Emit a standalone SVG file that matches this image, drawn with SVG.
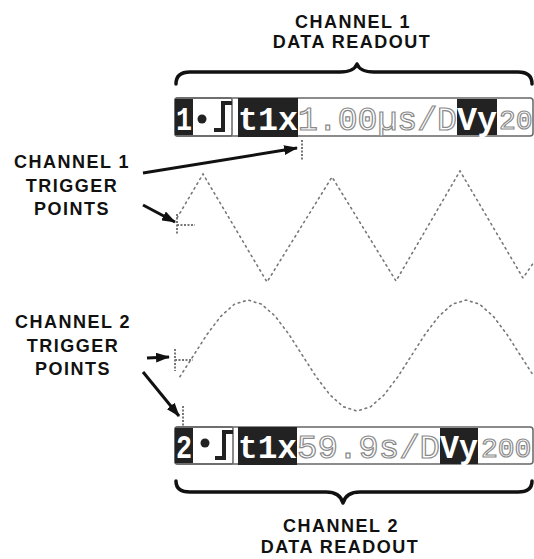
<svg xmlns="http://www.w3.org/2000/svg" width="534" height="559" viewBox="0 0 534 559">
<style>
.lbl{font-family:"Liberation Sans",Arial,sans-serif;font-weight:bold;font-size:18px;letter-spacing:1.5px;fill:#111;text-anchor:middle}
.brace{fill:none;stroke:#111;stroke-width:3.5;stroke-linecap:round;stroke-linejoin:round}
.dark{fill:#222}
.wt{font-family:"Liberation Mono","DejaVu Sans Mono",monospace;font-weight:bold;font-size:33px;fill:#fff}
.lt{font-family:"Liberation Mono","DejaVu Sans Mono",monospace;font-size:33px;fill:#fff;stroke:#8a8a8a;stroke-width:1.2}
.ls{font-size:28px}
.frame{fill:none;stroke:#666;stroke-width:1.5}
.step{fill:none;stroke:#222;stroke-width:4}
.wave{fill:none;stroke:#777;stroke-width:1.6;stroke-dasharray:1.6 4;stroke-linecap:round}
.mk{fill:none;stroke:#777;stroke-width:2;stroke-dasharray:2 1.5}
.arrow{stroke:#111;stroke-width:3;fill:none;marker-end:url(#ah)}
</style>
<defs>
<marker id="ah" markerUnits="userSpaceOnUse" markerWidth="14" markerHeight="10" refX="13" refY="5" orient="auto">
<path d="M0,0 L14,5 L0,10 Z" fill="#111"/>
</marker>
</defs>
<rect width="534" height="559" fill="#fff"/>

<g id="title-ch1">
<text class="lbl" x="353" y="28">CHANNEL 1</text>
<text class="lbl" x="352" y="48">DATA READOUT</text>
</g>
<g id="brace-ch1">
<path class="brace" d="M176,84 Q176,72 190,72 L340,72 Q354,72 357,64 Q360,72 374,72 L518,72 Q532,72 532,84"/>
</g>

<g id="readout-ch1">
<rect class="frame" x="175" y="98" width="358" height="38" rx="3"/>
<rect class="frame" x="175" y="98" width="57" height="38" rx="2"/>
<rect class="dark" x="175" y="99" width="18" height="36"/>
<text class="wt" x="176" y="130" textLength="16" lengthAdjust="spacingAndGlyphs">1</text>
<circle cx="202" cy="119" r="4.5" fill="#222"/>
<path class="step" d="M214,130 L223,130 L223,103 L232,103"/>
<rect class="dark" x="238" y="98" width="60" height="39"/>
<text class="wt" x="238" y="130" textLength="60" lengthAdjust="spacingAndGlyphs">t1x</text>
<text class="lt" x="298" y="130" textLength="159" lengthAdjust="spacingAndGlyphs">1.00µs/D</text>
<rect class="dark" x="457" y="99" width="40" height="36"/>
<text class="wt" x="457" y="130" textLength="40" lengthAdjust="spacingAndGlyphs">Vy</text>
<text class="lt ls" x="499" y="129">20</text>
</g>

<g id="label-ch1-trigger">
<text class="lbl" x="72" y="168">CHANNEL 1</text>
<text class="lbl" x="72" y="192">TRIGGER</text>
<text class="lbl" x="72" y="215">POINTS</text>
</g>

<g id="marker-ch1-top">
<path class="mk" d="M302,140 L302,160"/>
</g>
<g id="marker-ch1-left">
<path class="mk" d="M177,214 L177,234 M177,225 L195,225"/>
</g>

<g id="wave-ch1">
<polyline class="wave" points="177,218 203,174 267,282 332,177 396,281 460,171 523,278 534,262"/>
</g>

<g id="wave-ch2">
<polyline class="wave" points="179.9,376.7 193.5,355.5 207.1,334.3 220.8,316.3 234.4,304.2 248,300 261.6,304.2 275.3,316.3 288.9,334.3 302.5,355.5 316.1,376.7 329.8,394.7 343.4,406.8 357,411 370.6,406.8 384.3,394.7 397.9,376.7 411.5,355.5 425.1,334.3 438.8,316.3 452.4,304.2 466,300 479.6,304.2 493.3,316.3 506.9,334.3 520.5,355.5 534.1,376.7"/>
</g>

<g id="marker-ch2-left">
<path class="mk" d="M175,349 L175,371 M175,360 L193,360"/>
</g>
<g id="marker-ch2-bottom">
<path class="mk" d="M183,406 L183,426"/>
</g>

<g id="label-ch2-trigger">
<text class="lbl" x="73" y="328">CHANNEL 2</text>
<text class="lbl" x="73" y="352">TRIGGER</text>
<text class="lbl" x="73" y="375">POINTS</text>
</g>

<g id="readout-ch2">
<rect class="frame" x="175" y="427" width="358" height="37" rx="3"/>
<rect class="frame" x="175" y="427" width="58" height="37" rx="2"/>
<rect class="dark" x="175" y="428" width="18" height="35"/>
<text class="wt" x="176" y="458" textLength="16" lengthAdjust="spacingAndGlyphs">2</text>
<circle cx="205" cy="443" r="4.5" fill="#222"/>
<path class="step" d="M215,458 L224,458 L224,432 L233,432"/>
<rect class="dark" x="238" y="427" width="59" height="38"/>
<text class="wt" x="238" y="458" textLength="59" lengthAdjust="spacingAndGlyphs">t1x</text>
<text class="lt" x="297" y="458" textLength="143" lengthAdjust="spacingAndGlyphs">59.9s/D</text>
<rect class="dark" x="440" y="428" width="38" height="36"/>
<text class="wt" x="440" y="458" textLength="38" lengthAdjust="spacingAndGlyphs">Vy</text>
<text class="lt ls" x="481" y="457">200</text>
</g>

<g id="brace-ch2">
<path class="brace" d="M176,481 Q176,492 190,492 L326,492 Q340,492 343,503 Q346,492 360,492 L518,492 Q532,492 532,481"/>
</g>
<g id="title-ch2">
<text class="lbl" x="341" y="532">CHANNEL 2</text>
<text class="lbl" x="340" y="553">DATA READOUT</text>
</g>

<g id="connectors">
<line class="arrow" x1="143" y1="173" x2="297" y2="148"/>
<line class="arrow" x1="143" y1="205" x2="175" y2="222"/>
<line class="arrow" x1="147" y1="358" x2="169" y2="357"/>
<line class="arrow" x1="143" y1="372" x2="179" y2="416"/>
</g>
</svg>
